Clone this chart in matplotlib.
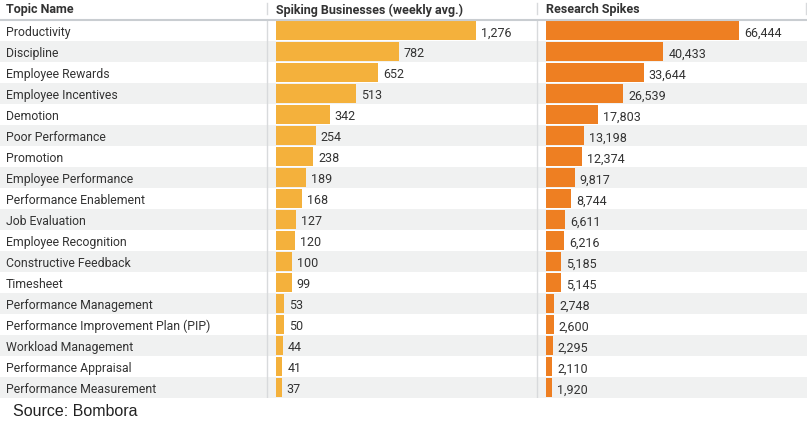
import matplotlib
matplotlib.use("Agg")
import matplotlib.pyplot as plt

topics = [
    "Productivity", "Discipline", "Employee Rewards", "Employee Incentives",
    "Demotion", "Poor Performance", "Promotion", "Employee Performance",
    "Performance Enablement", "Job Evaluation", "Employee Recognition",
    "Constructive Feedback", "Timesheet", "Performance Management",
    "Performance Improvement Plan (PIP)", "Workload Management",
    "Performance Appraisal", "Performance Measurement",
]
spiking_businesses = [1276, 782, 652, 513, 342, 254, 238, 189, 168, 127,
                      120, 100, 99, 53, 50, 44, 41, 37]
research_spikes = [66444, 40433, 33644, 26539, 17803, 13198, 12374, 9817,
                   8744, 6611, 6216, 5185, 5145, 2748, 2600, 2295, 2110, 1920]
headers = ["Topic Name", "Spiking Businesses (weekly avg.)", "Research Spikes"]

W, H = 807, 427
COLOR_1 = "#F4B13C"
COLOR_2 = "#EE7F22"
TEXT = "#333333"
ROW_GRAY = "#F0F1F1"
LINE_GRAY = "#D8DADC"

plt.rcParams["font.family"] = ["Roboto", "DejaVu Sans"]

fig = plt.figure(figsize=(W / 100, H / 100), dpi=100)
n = len(topics)

# rows region in pixels (from top)
row_top, row_bot = 21, 399
fb = (H - row_bot) / H
fh = (row_bot - row_top) / H


def px_axes(x0, x1):
    return fig.add_axes([x0 / W, fb, (x1 - x0) / W, fh])


# background: rows, topic names
bg = px_axes(0, W)
bg.set_xlim(0, W)
bg.set_ylim(n - 0.5, -0.5)
bg.axis("off")
for i, name in enumerate(topics):
    if i % 2 == 1:
        bg.axhspan(i - 0.5, i + 0.5, color=ROW_GRAY, lw=0, zorder=0)
    bg.text(6, i + 0.03, name, ha="left", va="center", fontsize=8.8, color=TEXT)
bg.axvline(267, color=LINE_GRAY, lw=1, zorder=1)
bg.axvline(537, color=LINE_GRAY, lw=1, zorder=1)


def bar_column(x0, values, color, px_for_max):
    width_px = W - x0 if x0 > 500 else 537 - x0
    ax = px_axes(x0, x0 + width_px)
    ax.patch.set_alpha(0)
    xmax = max(values) * width_px / px_for_max
    ax.set_xlim(0, xmax)
    ax.set_ylim(n - 0.5, -0.5)
    ax.axis("off")
    ax.barh(range(n), values, height=0.9, color=color, lw=0)
    off = xmax * 5 / width_px
    for i, v in enumerate(values):
        ax.text(v + off, i + 0.07, "{:,}".format(v), ha="left", va="center",
                fontsize=9, color=TEXT)
    return ax


bar_column(276, spiking_businesses, COLOR_1, 200)
bar_column(546, research_spikes, COLOR_2, 193)

# header
hy = (H - 10) / H
for x, label in zip([6, 276, 546], headers):
    fig.text(x / W, hy, label, ha="left", va="center", fontsize=9,
             fontweight="bold", color=TEXT)
fig.add_artist(plt.Line2D([0, 1], [(H - 20.5) / H] * 2, color="#C9CDD1", lw=1.5))
for x in [267, 537, 806]:
    fig.add_artist(plt.Line2D([x / W] * 2, [(H - 15) / H, (H - 4) / H],
                              color=LINE_GRAY, lw=1))

fig.text(13 / W, (H - 412) / H, "Source: Bombora", ha="left", va="center",
         fontsize=11.5, color="#222222", family=["Liberation Sans", "DejaVu Sans"])

fig.savefig("out.png", dpi=100)
